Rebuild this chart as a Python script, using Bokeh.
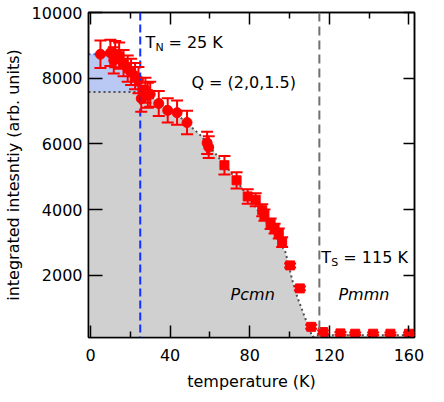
from bokeh.plotting import figure
from bokeh.models import (Range1d, FixedTicker, LinearAxis, Whisker, TeeHead,
                          ColumnDataSource, Label, Span)
from bokeh.embed import file_html
from bokeh.resources import INLINE

# ---- data ----
circ_T = [5, 10, 11.7, 12.4, 14.4, 16.6, 18.7, 20.4, 22.4, 24.1, 25.5, 27.6, 28.8, 30,
          34.3, 38.8, 43.5, 48.5, 58.6, 59.4]
circ_I = [8730, 8770, 8545, 8730, 8690, 8460, 8290, 8190, 8060, 7940, 7380, 7630, 7480, 7510,
          7230, 7020, 6950, 6650, 6030, 5900]
circ_err = [420, 400, 400, 400, 400, 400, 400, 400, 400, 400, 400, 380, 380, 380,
            380, 370, 370, 360, 340, 330]

sq_T = [67.3, 73.4, 79, 83, 86.3, 87.4, 90.5, 92.5, 94.6, 96.3, 100.3, 105.2, 110.9,
        116.9, 125.6, 133, 142, 150.7, 160]
sq_I = [5350, 4890, 4400, 4300, 3980, 3830, 3570, 3420, 3270, 3010, 2300, 1600, 430,
        270, 230, 220, 220, 220, 220]
sq_err = [280, 250, 220, 200, 180, 170, 160, 150, 150, 150, 60, 60, 60,
          50, 40, 40, 40, 40, 40]

# dotted fit curve
fit_T = [-1, 25, 28, 31.8, 40, 46.9, 55.3, 62.8, 70.4, 76.2, 82, 88.8, 94, 98, 101.4,
         103.9, 106.4, 108.9, 111.5, 113, 163]
fit_I = [7580, 7580, 7480, 7380, 7050, 6720, 6260, 5700, 5145, 4640, 4150, 3580, 3100,
         2700, 1850, 1340, 935, 530, 120, 170, 170]

# shaded regions
gray_T = fit_T[:19] + [-1]
gray_I = fit_I[:19] + [105]
blue_T = [-1, 6, 10, 14, 18.7, 22.4, 25, 25, -1]
blue_I = [8730, 8730, 8760, 8700, 8290, 8060, 7900, 7580, 7580]
blue_top_T = [-1, 6]
blue_top_I = [8730, 8730]

T_N = 25
T_S = 115
x_ticks = [0, 40, 80, 120, 160]
x_minor = [20, 60, 100, 140]
y_ticks = [2000, 4000, 6000, 8000, 10000]

FONT = "DejaVu Sans"

p = figure(frame_width=326, frame_height=325, x_range=Range1d(-1, 162.8),
           y_range=Range1d(105, 10000),
           output_backend="svg", toolbar_location=None,
           min_border_left=88, min_border_right=30, min_border_top=12, min_border_bottom=65)
p.grid.visible = False
p.outline_line_color = "black"
p.outline_line_width = 1.5
p.background_fill_color = "white"
p.border_fill_color = "white"

# shaded areas
p.patch(gray_T, gray_I, fill_color="#d0d0d0", line_color=None)
p.patch(blue_T, blue_I, fill_color="#b9c9f4", line_color=None)
p.line(blue_top_T, blue_top_I, line_color="#4060d0", line_dash="2 3", line_width=2)
p.line(fit_T, fit_I, line_color="#505050", line_dash="2 3", line_width=2)

p.add_layout(Span(location=T_N, dimension="height", line_color="#1030ff",
                  line_dash="8 4", line_width=2))
p.add_layout(Span(location=T_S, dimension="height", line_color="#707070",
                  line_dash="9 5", line_width=2))

# error bars
def add_err(T, I, E):
    src = ColumnDataSource(dict(T=T, lo=[a - b for a, b in zip(I, E)],
                                hi=[a + b for a, b in zip(I, E)]))
    w = Whisker(base="T", lower="lo", upper="hi", source=src, line_color="red",
                line_width=2,
                upper_head=TeeHead(size=12, line_color="red", line_width=2),
                lower_head=TeeHead(size=12, line_color="red", line_width=2))
    w.level = "annotation"
    p.add_layout(w)

add_err(circ_T, circ_I, circ_err)
add_err(sq_T, sq_I, sq_err)

p.scatter(circ_T, circ_I, marker="circle", size=10, color="red")
p.scatter(sq_T, sq_I, marker="square", size=9, color="red")

# axes
def style_axis(ax, ticks, minor, labels=True):
    ax.ticker = FixedTicker(ticks=ticks, minor_ticks=minor)
    ax.axis_line_width = 1.5
    ax.axis_line_color = "black"
    ax.major_tick_line_color = "black"
    ax.major_tick_line_width = 1.5
    ax.minor_tick_line_color = "black"
    ax.minor_tick_line_width = 1.5
    ax.major_tick_out = 0
    ax.minor_tick_out = 0
    ax.major_label_text_font = FONT
    ax.major_label_text_font_size = "16px"
    ax.major_label_text_color = "black"
    ax.axis_label_text_font = FONT
    ax.axis_label_text_font_size = "16px"
    ax.axis_label_text_font_style = "normal"
    ax.axis_label_text_color = "black"
    if not labels:
        ax.major_label_overrides = {t: "" for t in ticks}

xa = p.xaxis[0]
style_axis(xa, x_ticks, x_minor)
xa.major_tick_in = 12
xa.minor_tick_in = 6
xa.major_label_standoff = 11
xa.axis_label = "temperature (K)"
xa.axis_label_standoff = 8

ya = p.yaxis[0]
style_axis(ya, y_ticks, [])
ya.major_tick_in = 14
ya.minor_tick_in = 0
ya.major_label_standoff = 6
ya.axis_label = "integrated intesntiy (arb. units)"
ya.axis_label_standoff = 6

top = LinearAxis()
style_axis(top, x_ticks, x_minor, labels=False)
top.major_tick_in = 12
top.minor_tick_in = 6
top.major_label_standoff = 0
p.add_layout(top, "above")

right = LinearAxis()
style_axis(right, y_ticks, [], labels=False)
right.major_tick_in = 11
right.minor_tick_in = 0
right.major_label_standoff = 0
p.add_layout(right, "right")

# annotations
def lab(x, y, text, size="16px", style="normal", xo=0, yo=0):
    p.add_layout(Label(x=x, y=y, text=text, text_font=FONT, text_font_size=size,
                       text_font_style=style, text_color="black", x_offset=xo, y_offset=yo,
                       text_baseline="alphabetic"))

lab(27.6, 9090, "T")
lab(27.6, 9090, "N", size="11px", xo=10, yo=-5)
lab(27.6, 9090, "= 25 K", xo=23)
lab(50.7, 7860, "Q = (2,0,1.5)")
lab(116, 2550, "T")
lab(116, 2550, "S", size="11px", xo=10, yo=-5)
lab(116, 2550, "= 115 K", xo=22)
lab(70.4, 1420, "Pcmn", style="italic")
lab(124.6, 1420, "Pmmn", style="italic")

open("out.html", "w").write(file_html(p, INLINE))
